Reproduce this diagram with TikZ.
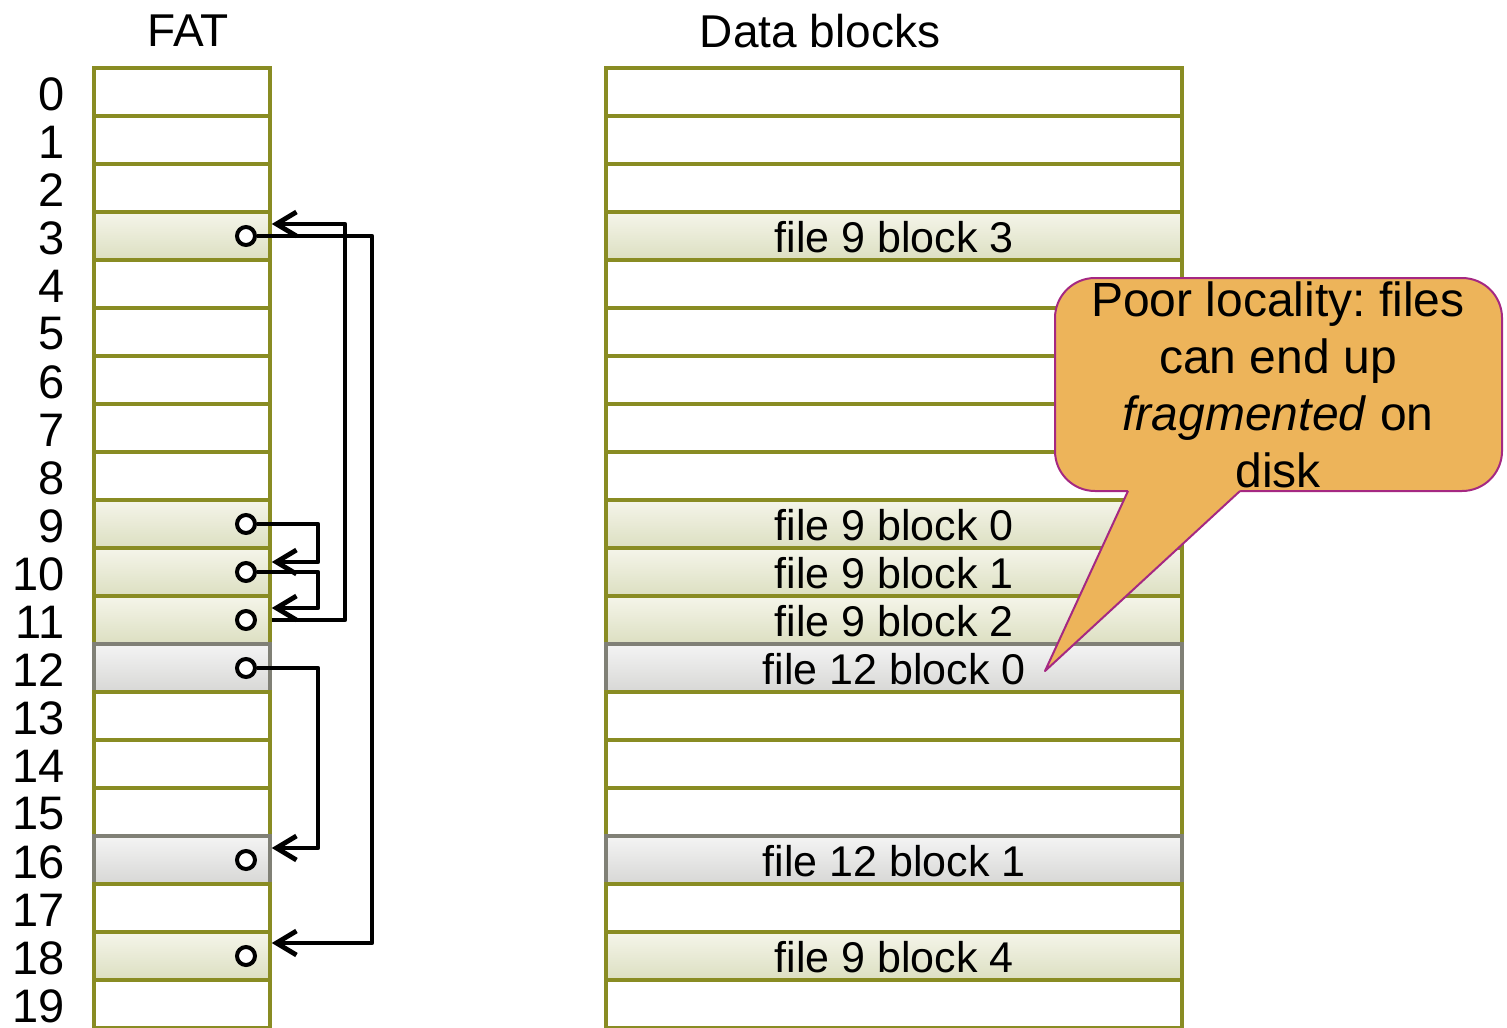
\documentclass[tikz,border=0pt]{standalone}
\usepackage{fontspec}
\setmainfont{Liberation Sans}
\usetikzlibrary{arrows.meta}
\frenchspacing

\definecolor{cellline}{RGB}{137,140,35}
\definecolor{grayline}{RGB}{128,128,118}
\definecolor{olivetop}{RGB}{245,245,234}
\definecolor{olivebot}{RGB}{220,223,193}
\definecolor{graytop}{RGB}{244,244,244}
\definecolor{graybot}{RGB}{215,215,213}
\definecolor{callfill}{RGB}{237,180,90}
\definecolor{callline}{RGB}{165,40,130}

\begin{document}
\begin{tikzpicture}[x=0.5pt,y=-0.5pt,
  cellbase/.style={rectangle, inner sep=0pt, minimum height=24pt, line width=1.8pt},
  fatcell/.style={cellbase, minimum width=88pt},
  datacell/.style={cellbase, minimum width=288pt, text height=16pt, text depth=-3pt,
    font=\fontsize{21.5pt}{26pt}\selectfont},
  cplain/.style={draw=cellline, fill=white},
  colive/.style={draw=cellline, top color=olivetop, bottom color=olivebot},
  cgray/.style={draw=grayline, top color=graytop, bottom color=graybot},
  rowlabel/.style={anchor=east, inner sep=0pt, font=\fontsize{23.5pt}{28pt}\selectfont},
  title/.style={inner sep=0pt, font=\fontsize{23pt}{28pt}\selectfont},
  dot/.style={circle, draw=black, fill=white, line width=2pt, minimum size=9pt, inner sep=0pt},
  link/.style={draw=black, line width=2.4pt, line join=round, -{Straight Barb[length=10pt,width=12pt]}},
  callbox/.style={rectangle, rounded corners=20pt, fill=callfill, draw=callline, line width=1pt,
    minimum width=223.5pt, minimum height=106.5pt, inner sep=0pt},
  calltext/.style={align=center, inner sep=0pt, font=\fontsize{24pt}{28.4pt}\selectfont}
]
\useasboundingbox (0,0) rectangle (1507,1027);

% column titles
\node[title] (fattitle) at (188,31) {FAT};
\node[title] (datatitle) at (820,31) {Data blocks};

% FAT entries and data blocks, drawn top to bottom
\foreach \r/\s/\t in {0/cplain/{},1/cplain/{},2/cplain/{},3/colive/{file 9 block 3},
  4/cplain/{},5/cplain/{},6/cplain/{},7/cplain/{},8/cplain/{},
  9/colive/{file 9 block 0},10/colive/{file 9 block 1},11/colive/{file 9 block 2},
  12/cgray/{file 12 block 0},13/cplain/{},14/cplain/{},15/cplain/{},
  16/cgray/{file 12 block 1},17/cplain/{},18/colive/{file 9 block 4},19/cplain/{}} {
  \pgfmathsetmacro\yc{92+48*\r}
  \node[fatcell,\s] (f\r) at (182,\yc) {};
  \node[datacell,\s] (d\r) at (894,\yc) {\t};
  \node[rowlabel] (n\r) at (65,\yc+2) {\r};
}

% next-block pointers stored in the table
\foreach \r in {3,9,10,11,12,16,18} {
  \pgfmathsetmacro\yc{92+48*\r}
  \node[dot] (c\r) at (246,\yc) {};
}

\draw[link] (c3.east) -- (372,236) -- (372,943) -- ([yshift=6.5pt]f18.east);
\draw[link] (f11.east) -- (345,620) -- (345,224) -- ([yshift=6pt]f3.east);
\draw[link] (c9.east) -- (318,524) -- (318,562) -- ([yshift=5pt]f10.east);
\draw[link] (c10.east) -- (318,572) -- (318,608) -- ([yshift=6pt]f11.east);
\draw[link] (c12.east) -- (318,668) -- (318,848) -- ([yshift=6pt]f16.east);

% callout
\node[callbox] (callout) at (1278.5,384.5) {};
\coordinate (tip) at (1045,671);
\fill[callfill] (1128,491) -- (tip) -- (1240,491) -- (1240,485) -- (1128,485) -- cycle;
\draw[callline, line width=1pt, line join=round] (1128,491) -- (tip) -- (1240,491);
\node[calltext] (callnote) at (1278,385)
  {Poor locality: files\\can end up\\\textit{fragmented} on\\disk};
\end{tikzpicture}
\end{document}
